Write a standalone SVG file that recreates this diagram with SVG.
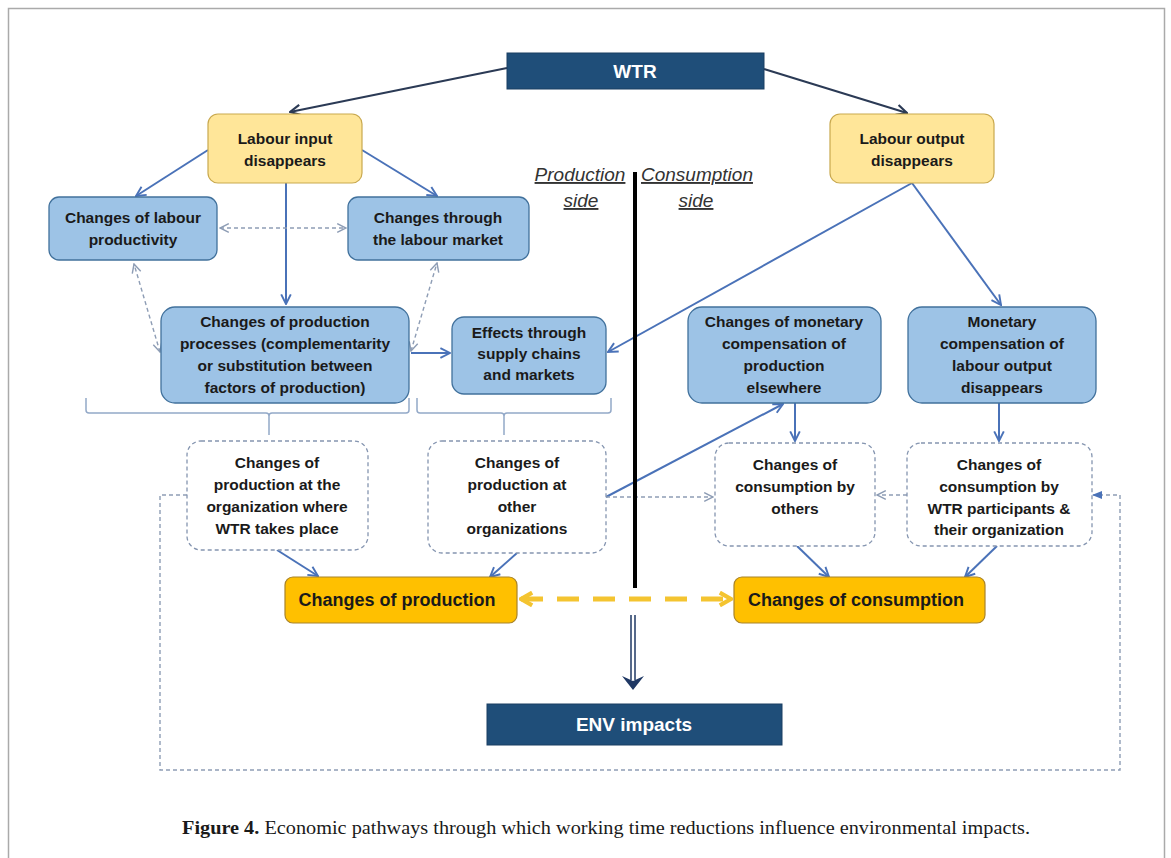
<svg xmlns="http://www.w3.org/2000/svg" width="1171" height="858" viewBox="0 0 1171 858">
<style>
.t{font-family:"Liberation Sans",Arial,sans-serif;font-weight:bold;font-size:15.5px;fill:#1a1a1a;text-anchor:middle}
.big{font-family:"Liberation Sans",Arial,sans-serif;font-weight:bold;font-size:18px;fill:#1a1a1a;text-anchor:middle}
.wt{font-family:"Liberation Sans",Arial,sans-serif;font-weight:bold;font-size:19px;fill:#ffffff;text-anchor:middle}
.side{font-family:"Liberation Sans",Arial,sans-serif;font-style:italic;font-size:19px;fill:#333;text-anchor:middle;text-decoration:underline}
.navy{fill:#1f4e79;stroke:#1a3f63;stroke-width:1}
.yel{fill:#ffe699;stroke:#c9a94f;stroke-width:1.2}
.blu{fill:#9dc3e6;stroke:#41719c;stroke-width:1.3}
.org{fill:#ffc000;stroke:#a8832a;stroke-width:1.2}
.dbox{fill:#ffffff;stroke:#8595b0;stroke-width:1.3;stroke-dasharray:4 3}
.cb{fill:none;stroke:#4a72b8;stroke-width:2}
.cd{fill:none;stroke:#2b3a55;stroke-width:2.2}
.cg{fill:none;stroke:#8e9db5;stroke-width:1.4;stroke-dasharray:4 3}
.br{fill:none;stroke:#93a9c8;stroke-width:1.5}
</style>
<defs>
<marker id="ab" viewBox="0 0 10 10" refX="9" refY="5" markerWidth="12" markerHeight="12" markerUnits="userSpaceOnUse" orient="auto"><path d="M1,1 L9,5 L1,9" fill="none" stroke="#4a72b8" stroke-width="1.6"/></marker>
<marker id="ad" viewBox="0 0 10 10" refX="9" refY="5" markerWidth="13" markerHeight="13" markerUnits="userSpaceOnUse" orient="auto"><path d="M1,1 L9,5 L1,9" fill="none" stroke="#2b3a55" stroke-width="1.7"/></marker>
<marker id="ag" viewBox="0 0 10 10" refX="9" refY="5" markerWidth="11" markerHeight="11" markerUnits="userSpaceOnUse" orient="auto-start-reverse"><path d="M1,1 L9,5 L1,9" fill="none" stroke="#8e9db5" stroke-width="1.3"/></marker>
<marker id="af" viewBox="0 0 10 10" refX="9" refY="5" markerWidth="10" markerHeight="10" markerUnits="userSpaceOnUse" orient="auto"><path d="M0,1 L10,5 L0,9 Z" fill="#4a72b8"/></marker>
<marker id="ay" viewBox="0 0 10 10" refX="9" refY="5" markerWidth="16" markerHeight="16" markerUnits="userSpaceOnUse" orient="auto-start-reverse"><path d="M2,1 L9,5 L2,9" fill="none" stroke="#f4c430" stroke-width="2.6"/></marker>
</defs>
<rect width="1171" height="858" fill="#ffffff"/>
<path d="M8.5,870 V8.5 H1164.5 V870" fill="none" stroke="#aaaaaa" stroke-width="1.5"/>

<g id="connectors">
<path class="cd" d="M507,68 L290,112" marker-end="url(#ad)"/>
<path class="cd" d="M764,69 L907,113" marker-end="url(#ad)"/>
<path class="cb" d="M208,150 L136,196" marker-end="url(#ab)"/>
<path class="cb" d="M362,150 L437,196" marker-end="url(#ab)"/>
<path class="cb" d="M286,183 V304" marker-end="url(#ab)"/>
<path class="cb" d="M411,353 H450" marker-end="url(#ab)"/>
<path class="cb" d="M912,183 L608,352" marker-end="url(#ab)"/>
<path class="cb" d="M912,183 L1001,305" marker-end="url(#ab)"/>
<path class="cb" d="M606,497 L783,404" marker-end="url(#ab)"/>
<path class="cb" d="M795,403 V441" marker-end="url(#ab)"/>
<path class="cb" d="M999,403 V441" marker-end="url(#ab)"/>
<path class="cb" d="M277,550 L318,576" marker-end="url(#ab)"/>
<path class="cb" d="M517,553 L490,577" marker-end="url(#ab)"/>
<path class="cb" d="M797,546 L829,577" marker-end="url(#ab)"/>
<path class="cb" d="M997,546 L965,577" marker-end="url(#ab)"/>
<path class="cg" d="M220,228 H346" marker-start="url(#ag)" marker-end="url(#ag)"/>
<path class="cg" d="M160,352 L134,264" marker-start="url(#ag)" marker-end="url(#ag)"/>
<path class="cg" d="M411,351 L437,263" marker-start="url(#ag)" marker-end="url(#ag)"/>
<path class="cg" d="M606,497 H713" marker-end="url(#ag)"/>
<path class="cg" d="M907,495 H877" marker-end="url(#ag)"/>
<path class="cg" d="M187,495 H160 V770 H1120 V495 H1093" marker-end="url(#af)"/>
<path class="br" d="M86,398 V410 Q86,413 89,413 H266 Q269,413 269,416 V435 M269,416 Q269,413 272,413 H406 Q409,413 409,410 V398"/>
<path class="br" d="M417,398 V410 Q417,413 420,413 H501 Q504,413 504,416 V435 M504,416 Q504,413 507,413 H608 Q611,413 611,410 V398"/>
<path d="M521,599 H731" fill="none" stroke="#f4c430" stroke-width="5" stroke-dasharray="22 14" marker-start="url(#ay)" marker-end="url(#ay)"/>
<path d="M635,172 V588" stroke="#000000" stroke-width="4"/>
<path d="M631,615 V680 M635,615 V680" stroke="#1f3864" stroke-width="1.5"/>
<path d="M622,676 L633,690 L644,676 L633,681 Z" fill="#1f3864"/>
</g>

<g id="sides">
<text class="side" x="580" y="181">Production</text>
<text class="side" x="581" y="207">side</text>
<text class="side" x="697" y="181">Consumption</text>
<text class="side" x="696" y="207">side</text>
</g>

<g id="wtr"><rect class="navy" x="507" y="53" width="257" height="36"/><text class="wt" x="635" y="78">WTR</text></g>
<g id="labour-input"><rect class="yel" x="208" y="114" width="154" height="69" rx="10"/><text class="t" x="285" y="144">Labour input</text><text class="t" x="285" y="166">disappears</text></g>
<g id="labour-output"><rect class="yel" x="830" y="114" width="164" height="69" rx="10"/><text class="t" x="912" y="144">Labour output</text><text class="t" x="912" y="166">disappears</text></g>
<g id="labour-productivity"><rect class="blu" x="49" y="197" width="168" height="63" rx="10"/><text class="t" x="133" y="223">Changes of labour</text><text class="t" x="133" y="245">productivity</text></g>
<g id="labour-market"><rect class="blu" x="348" y="197" width="181" height="63" rx="10"/><text class="t" x="438" y="223">Changes through</text><text class="t" x="438" y="245">the labour market</text></g>
<g id="production-processes"><rect class="blu" x="161" y="307" width="248" height="96" rx="14"/><text class="t" x="285" y="327">Changes of production</text><text class="t" x="285" y="349">processes (complementarity</text><text class="t" x="285" y="371">or substitution between</text><text class="t" x="285" y="393">factors of production)</text></g>
<g id="supply-chains"><rect class="blu" x="452" y="317" width="154" height="77" rx="12"/><text class="t" x="529" y="338">Effects through</text><text class="t" x="529" y="359">supply chains</text><text class="t" x="529" y="380">and markets</text></g>
<g id="monetary-elsewhere"><rect class="blu" x="688" y="307" width="193" height="96" rx="14"/><text class="t" x="784" y="327">Changes of monetary</text><text class="t" x="784" y="349">compensation of</text><text class="t" x="784" y="371">production</text><text class="t" x="784" y="393">elsewhere</text></g>
<g id="monetary-labour"><rect class="blu" x="908" y="307" width="188" height="96" rx="14"/><text class="t" x="1002" y="327">Monetary</text><text class="t" x="1002" y="349">compensation of</text><text class="t" x="1002" y="371">labour output</text><text class="t" x="1002" y="393">disappears</text></g>
<g id="prod-org"><rect class="dbox" x="187" y="441" width="181" height="109" rx="14"/><text class="t" x="277" y="468">Changes of</text><text class="t" x="277" y="490">production at the</text><text class="t" x="277" y="512">organization where</text><text class="t" x="277" y="534">WTR takes place</text></g>
<g id="prod-other"><rect class="dbox" x="428" y="441" width="178" height="112" rx="14"/><text class="t" x="517" y="468">Changes of</text><text class="t" x="517" y="490">production at</text><text class="t" x="517" y="512">other</text><text class="t" x="517" y="534">organizations</text></g>
<g id="cons-others"><rect class="dbox" x="715" y="443" width="160" height="103" rx="14"/><text class="t" x="795" y="470">Changes of</text><text class="t" x="795" y="492">consumption by</text><text class="t" x="795" y="514">others</text></g>
<g id="cons-wtr"><rect class="dbox" x="907" y="443" width="185" height="103" rx="14"/><text class="t" x="999" y="470">Changes of</text><text class="t" x="999" y="492">consumption by</text><text class="t" x="999" y="514">WTR participants &amp;</text><text class="t" x="999" y="535">their organization</text></g>
<g id="changes-production"><rect class="org" x="285" y="577" width="232" height="46" rx="8"/><text class="big" x="397" y="606">Changes of production</text></g>
<g id="changes-consumption"><rect class="org" x="734" y="577" width="251" height="46" rx="8"/><text class="big" x="856" y="606">Changes of consumption</text></g>
<g id="env"><rect class="navy" x="487" y="704" width="295" height="41"/><text class="wt" x="634" y="731">ENV impacts</text></g>

<text x="182" y="834" font-family="'Liberation Serif','Times New Roman',serif" font-size="19.5" fill="#1a1a1a" textLength="848" lengthAdjust="spacingAndGlyphs"><tspan font-weight="bold">Figure 4.</tspan> Economic pathways through which working time reductions influence environmental impacts.</text>
</svg>
